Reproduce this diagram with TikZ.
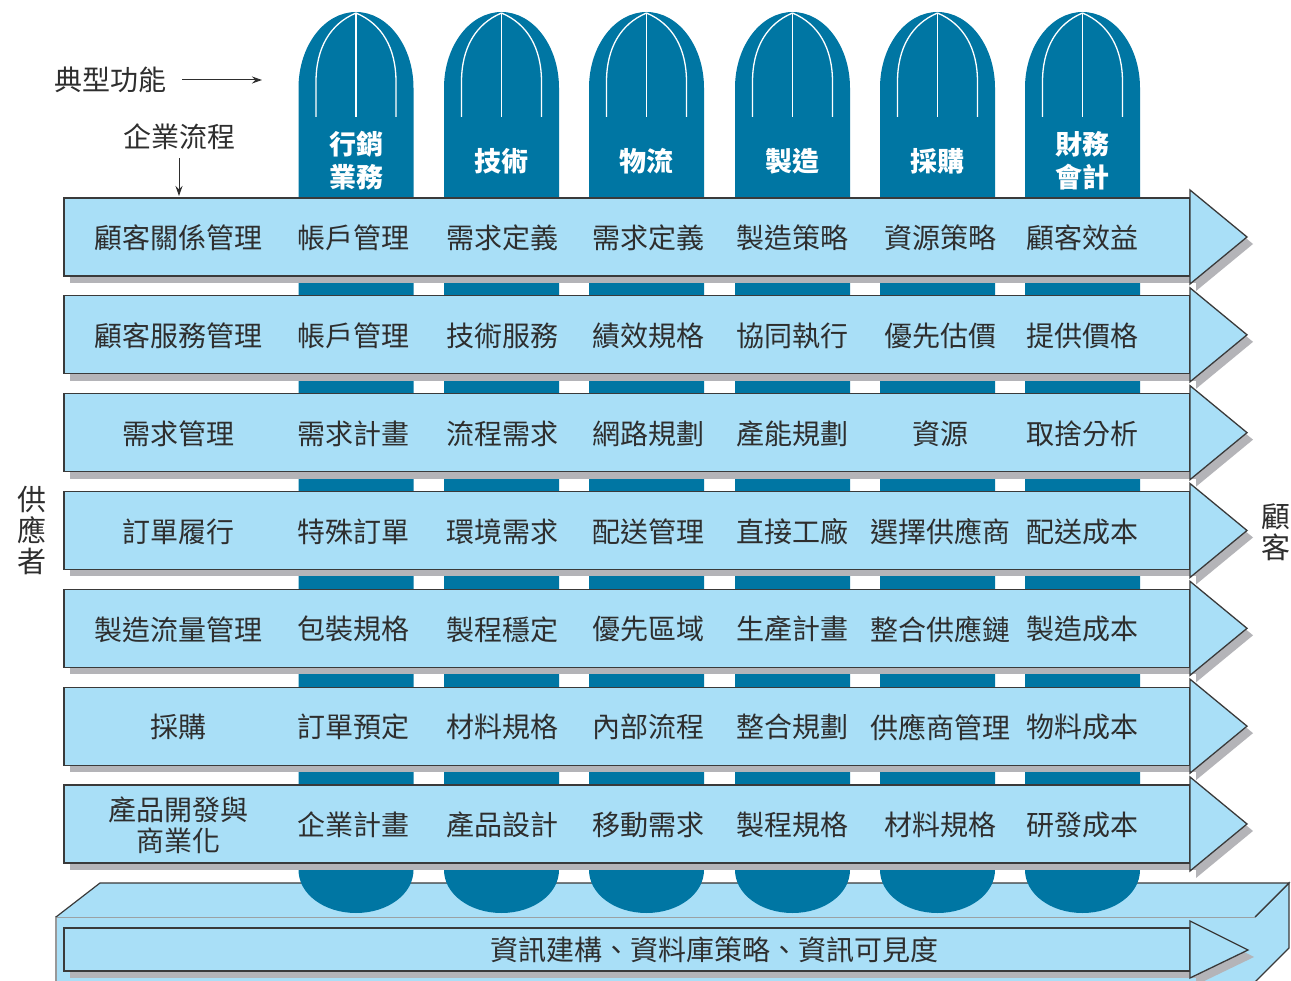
\documentclass[tikz,border=0pt]{standalone}
\usepackage{fontspec}
\setmainfont{Noto Sans CJK TC}
\usetikzlibrary{arrows.meta}
\definecolor{lb}{HTML}{A9DFF7}
\definecolor{db}{HTML}{0076A3}
\definecolor{sh}{HTML}{B4B4B8}
\definecolor{tx}{HTML}{2E2E2E}
\definecolor{ol}{HTML}{3A3A3A}
\tikzset{
  bandbox/.style={draw=ol,fill=lb,line width=1.3pt},
  shadowbox/.style={fill=sh},
  celltext/.style={text=tx,font=\fontsize{28}{31}\selectfont,inner sep=0pt,align=center},
  headtext/.style={text=white,font=\fontsize{27}{33}\selectfont\bfseries,inner sep=0pt,align=center},
  sidetext/.style={text=tx,font=\fontsize{29}{31}\selectfont,inner sep=0pt,align=center},
  domeline/.style={draw=white,line width=1.3pt},
  arr/.style={draw=tx,line width=1pt,-{Stealth[length=10pt,width=7pt]}}
}
\begin{document}
\begin{tikzpicture}[x=1pt,y=-1pt]
\useasboundingbox (0,0) rectangle (1291,981);
\clip (0,0) rectangle (1291,981);
\fill[white] (0,0) rectangle (1291,981);
% platform
\fill[lb] (56,917) -- (1255,917) -- (1255,990) -- (56,990) -- cycle;
\draw[draw=gray!80,line width=1.2pt] (56,990) -- (56,917) -- (1255,917);
\filldraw[fill=lb,draw=ol,line width=1.2pt] (1255,917) -- (1289,883) -- (1289,948) -- (1255,982);
\filldraw[fill=lb,draw=ol,line width=1.2pt] (56,917) -- (100,883) -- (1289,883) -- (1255,917);
% columns
\foreach \c in {356,501.5,646.5,792.5,937.5,1082.5} {
  \fill[db] ({\c-57.5},88) .. controls ({\c-57.5},46) and ({\c-31.8},12) .. (\c,12)
    .. controls ({\c+31.8},12) and ({\c+57.5},46) .. ({\c+57.5},88)
    -- ({\c+57.5},870) .. controls ({\c+57.5},894) and ({\c+31.8},913) .. (\c,913)
    .. controls ({\c-31.8},913) and ({\c-57.5},894) .. ({\c-57.5},870) -- cycle;
  \draw[domeline] (\c,13) -- (\c,117);
  \draw[domeline] (\c,13) .. controls ({\c-26},24) and ({\c-40},48) .. ({\c-40},82) -- ({\c-40},117);
  \draw[domeline] (\c,13) .. controls ({\c+26},24) and ({\c+40},48) .. ({\c+40},82) -- ({\c+40},117);
}
% headers
\node[headtext] (h1) at (356,161) {行銷\\業務};
\node[headtext] (h2) at (501.5,161) {技術};
\node[headtext] (h3) at (646.5,161) {物流};
\node[headtext] (h4) at (792.5,161) {製造};
\node[headtext] (h5) at (937.5,161) {採購};
\node[headtext] (h6) at (1082.5,161) {財務\\會計};
% rows
\foreach \i/\a/\b/\c/\d/\e/\f/\g in {
 0/顧客關係管理/帳戶管理/需求定義/需求定義/製造策略/資源策略/顧客效益,
 1/顧客服務管理/帳戶管理/技術服務/績效規格/協同執行/優先估價/提供價格,
 2/需求管理/需求計畫/流程需求/網路規劃/產能規劃/資源/取捨分析,
 3/訂單履行/特殊訂單/環境需求/配送管理/直接工廠/選擇供應商/配送成本,
 4/製造流量管理/包裝規格/製程穩定/優先區域/生產計畫/整合供應鏈/製造成本,
 5/採購/訂單預定/材料規格/內部流程/整合規劃/供應商管理/物料成本,
 6/產品開發與\\商業化/企業計畫/產品設計/移動需求/製程規格/材料規格/研發成本} {
  \pgfmathsetmacro\t{198+97.83*\i}
  \fill[sh] (70,{\t+7}) rectangle (1196,{\t+85});
  \fill[sh] (1196,{\t-1}) -- (1253,{\t+46}) -- (1196,{\t+93}) -- cycle;
  \draw[bandbox] (64,\t) rectangle (1190,{\t+78});
  \draw[bandbox] (1190,{\t-8}) -- (1247,{\t+39}) -- (1190,{\t+86}) -- cycle;
  \node[celltext] (L\i) at (178,{\t+40}) {\a};
  \node[celltext] (C\i-1) at (353,{\t+40}) {\b};
  \node[celltext] (C\i-2) at (502,{\t+40}) {\c};
  \node[celltext] (C\i-3) at (648,{\t+40}) {\d};
  \node[celltext] (C\i-4) at (792,{\t+40}) {\e};
  \node[celltext] (C\i-5) at (940,{\t+40}) {\f};
  \node[celltext] (C\i-6) at (1082,{\t+40}) {\g};
}
% bottom band
\fill[sh] (70,935) rectangle (1196,978);
\fill[sh] (1196,928) -- (1254,957) -- (1196,985) -- cycle;
\draw[bandbox] (64,928) rectangle (1190,971);
\draw[bandbox] (1190,921) -- (1248,950) -- (1190,978) -- cycle;
\node[celltext] (info) at (714,950) {資訊建構、資料庫策略、資訊可見度};
% labels and arrows
\node[celltext] (typ) at (110,80) {典型功能};
\node[celltext] (proc) at (179,137) {企業流程};
\coordinate (typend) at (262,80);
\coordinate (procend) at (179,196);
\draw[arr] ([yshift=-8pt]proc.south) -- (procend);
\draw[arr] ([xshift=16pt]typ.east) -- (typend);
\node[sidetext] (sup) at (32,531) {供\\應\\者};
\node[sidetext] (cus) at (1276,532) {顧\\客};
\end{tikzpicture}
\end{document}
